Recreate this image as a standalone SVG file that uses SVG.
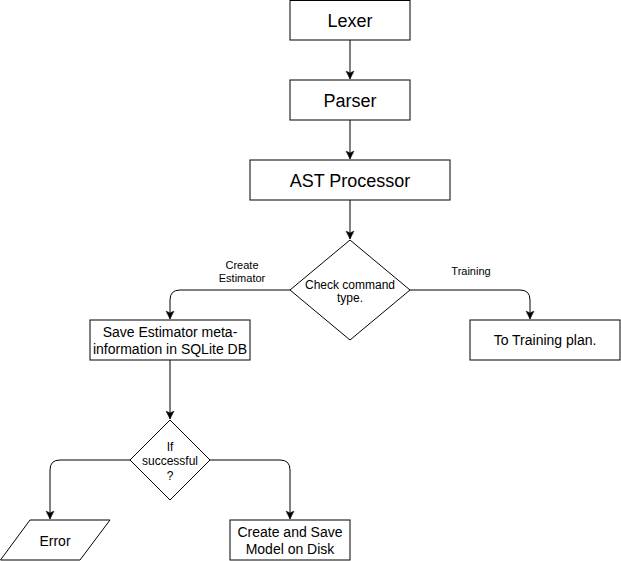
<svg xmlns="http://www.w3.org/2000/svg" width="621" height="561" viewBox="0 0 621 561">
<style>
.box{fill:#fff;stroke:#000;stroke-width:1}
.edge{fill:none;stroke:#000;stroke-width:1}
text{font-family:"Liberation Sans",Arial,sans-serif;fill:#000;text-anchor:middle}
.t18{font-size:18px}
.t14{font-size:14px}
.t12{font-size:12px}
.t11{font-size:11px}
</style>
<defs>
<marker id="arr" markerUnits="userSpaceOnUse" markerWidth="10" markerHeight="10" viewBox="0 0 10 10" refX="8" refY="5" orient="auto">
<path d="M0,1 L8,5 L0,9 L2,5 z" fill="#000" stroke="#000" stroke-width="0.5"/>
</marker>
</defs>
<rect width="621" height="561" fill="#fff"/>
<g id="connectors">
<path class="edge" d="M350 40 V79" marker-end="url(#arr)"/>
<path class="edge" d="M350 120 V159" marker-end="url(#arr)"/>
<path class="edge" d="M350 200 V239" marker-end="url(#arr)"/>
<path class="edge" d="M290 290 H180 Q170 290 170 300 V319" marker-end="url(#arr)"/>
<path class="edge" d="M410 290 H520 Q530 290 530 300 V319" marker-end="url(#arr)"/>
<path class="edge" d="M170 360 V419" marker-end="url(#arr)"/>
<path class="edge" d="M130 460 H60 Q50 460 50 470 V519" marker-end="url(#arr)"/>
<path class="edge" d="M210 460 H280 Q290 460 290 470 V519" marker-end="url(#arr)"/>
<text class="t11" x="242" y="268.5">Create</text>
<text class="t11" x="242" y="282">Estimator</text>
<text class="t11" x="471" y="275">Training</text>
</g>
<g id="lexer">
<rect class="box" x="290" y="0.5" width="120" height="39.5"/>
<text class="t18" x="350" y="26.5">Lexer</text>
</g>
<g id="parser">
<rect class="box" x="290" y="80" width="120" height="40"/>
<text class="t18" x="350" y="106.5">Parser</text>
</g>
<g id="ast">
<rect class="box" x="250" y="160" width="200" height="40"/>
<text class="t18" x="350" y="186.5">AST Processor</text>
</g>
<g id="check">
<polygon class="box" points="350,240 410,290 350,340 290,290"/>
<text class="t12" x="350" y="288.5">Check command</text>
<text class="t12" x="350" y="302">type.</text>
</g>
<g id="save">
<rect class="box" x="90" y="320" width="160" height="40"/>
<text class="t14" x="170" y="337">Save Estimator meta-</text>
<text class="t14" x="170" y="354">information in SQLite DB</text>
</g>
<g id="training">
<rect class="box" x="470" y="320" width="150" height="40"/>
<text class="t14" x="545" y="345">To Training plan.</text>
</g>
<g id="ifsuccess">
<polygon class="box" points="170,420 210,460 170,500 130,460"/>
<text class="t12" x="170" y="450.5">If</text>
<text class="t12" x="170" y="465">successful</text>
<text class="t12" x="170" y="479.5">?</text>
</g>
<g id="error">
<polygon class="box" points="30,520 110,520 80,560 0.5,560"/>
<text class="t14" x="55" y="546">Error</text>
</g>
<g id="create">
<rect class="box" x="230" y="520" width="120" height="40"/>
<text class="t14" x="290" y="537">Create and Save</text>
<text class="t14" x="290" y="554">Model on Disk</text>
</g>
</svg>
